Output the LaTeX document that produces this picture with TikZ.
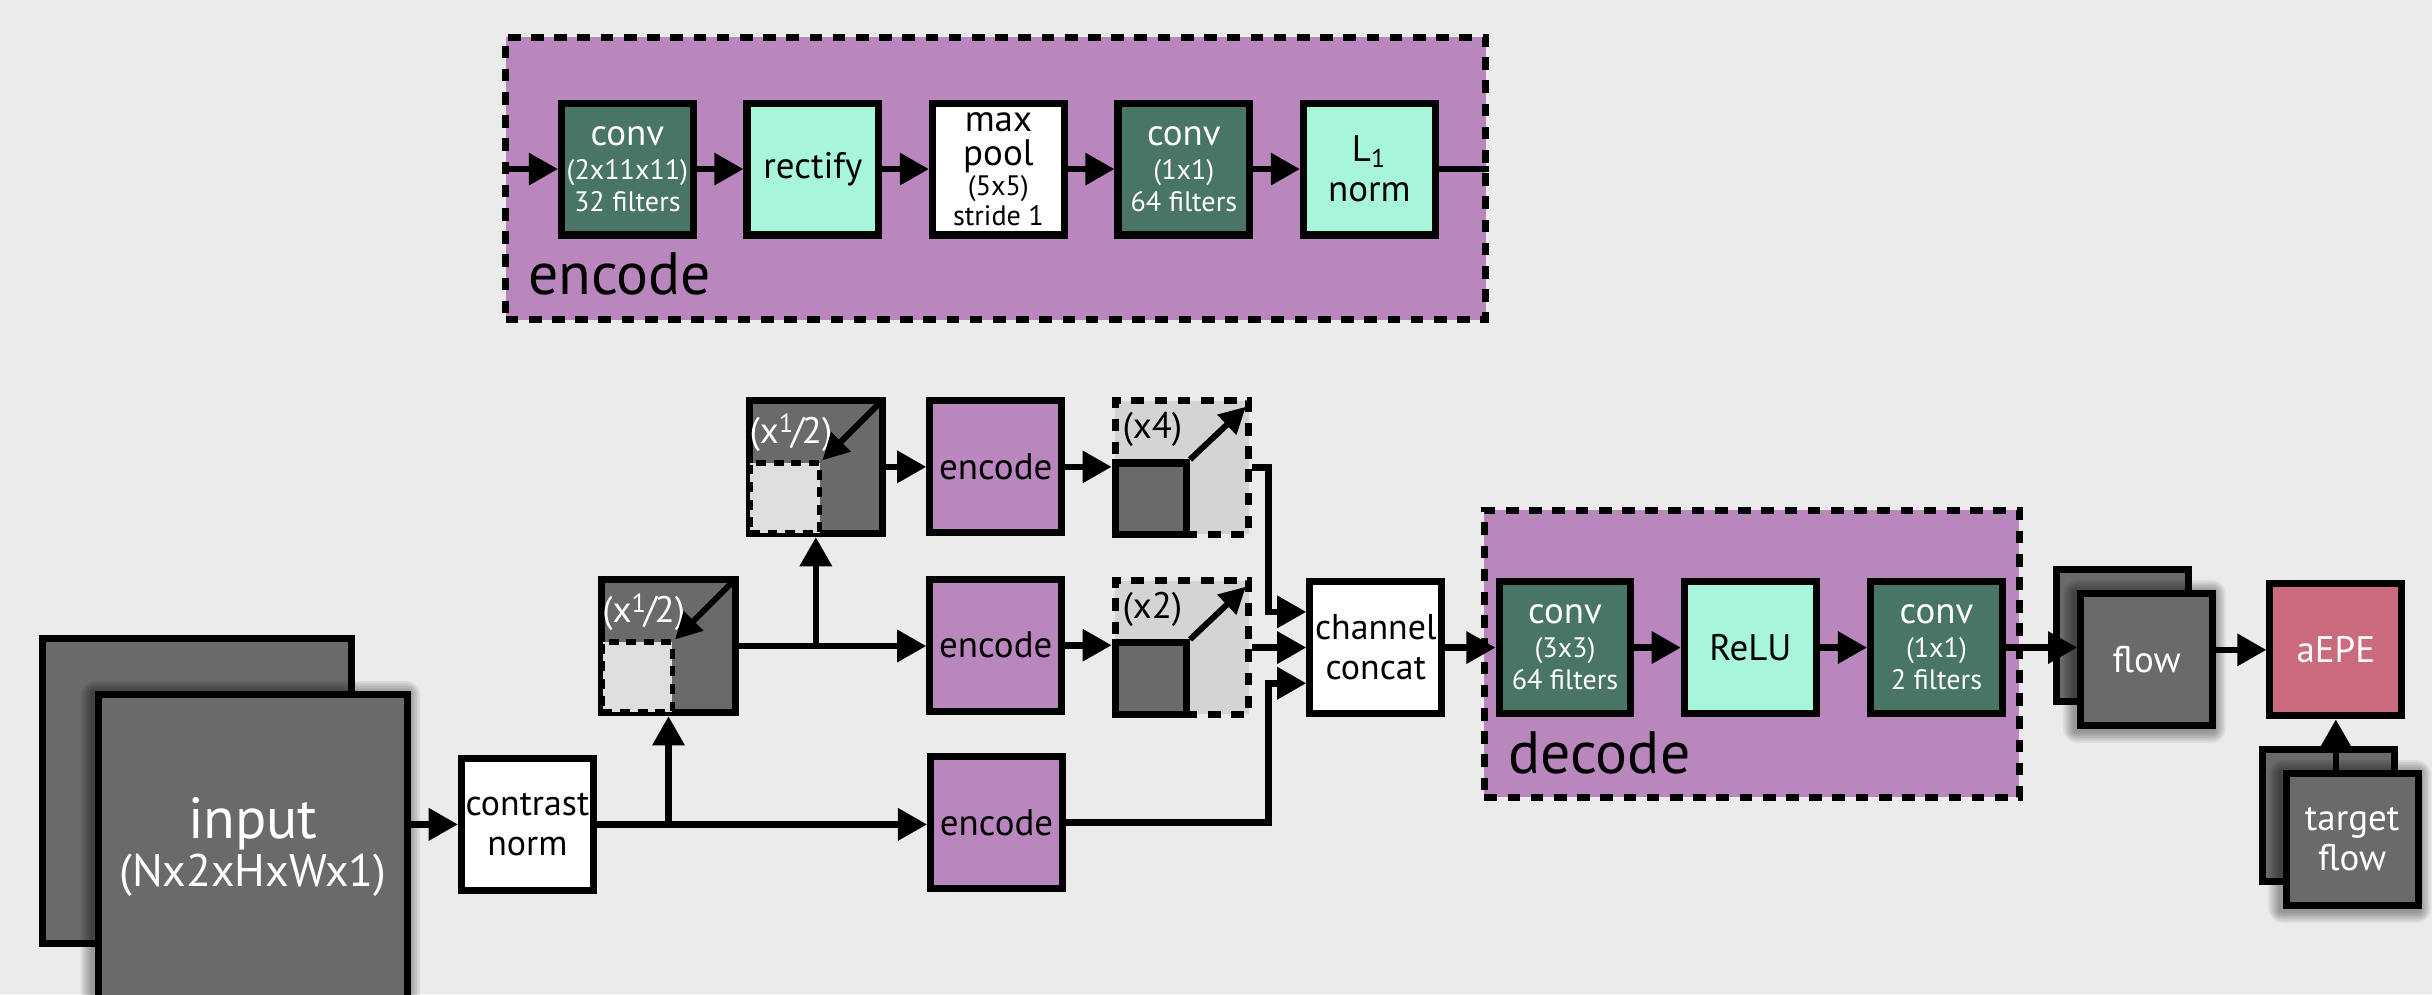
\documentclass[tikz,border=0pt]{standalone}
\usepackage{fontspec}
\setmainfont{PT Sans}
\usetikzlibrary{arrows.meta,calc}
\definecolor{bg}{HTML}{EBEBEB}
\definecolor{purp}{HTML}{BA86BE}
\definecolor{dgreen}{HTML}{487566}
\definecolor{mint}{HTML}{A7F5DB}
\definecolor{dgray}{HTML}{6A6A6A}
\definecolor{lgray}{HTML}{DEDEDE}
\definecolor{mgray}{HTML}{D4D4D4}
\definecolor{rose}{HTML}{CA6A7C}
\newcommand{\fsz}[2]{\fontsize{#1}{#2}\selectfont}
\newcommand{\half}{(x\raisebox{0.55ex}{\fsz{7.5}{8}1}\kern-0.06em/\kern-0.06em2)}
\def\pxu{0.01551cm}
% soft dark glow under a box: centre coordinate, width, height (in picture units)
\newcommand{\glowbox}[3]{%
  \foreach \k in {1,...,7}{%
    \fill[black, fill opacity=0.06, rounded corners=\k*0.6pt]
      ($(#1)+(-#2/2-\k*1.1-1.5,-#3/2-\k*1.1+1.5)$) rectangle ($(#1)+(#2/2+\k*1.1-1.5,#3/2+\k*1.1+1.5)$);}}
\tikzset{
  blk/.style={draw=black, line width=2pt, minimum width=85*\pxu, minimum height=85*\pxu, inner sep=0pt, align=center, font=\fsz{10.5}{11.4}},
  convbox/.style={blk, fill=dgreen, text=white},
  mintbox/.style={blk, fill=mint},
  whitebox/.style={blk, fill=white},
  encodebox/.style={blk, fill=purp},
  graybox/.style={blk, fill=dgray, text=white},
  rosebox/.style={blk, fill=rose, text=white},
  region/.style={draw=black, fill=purp, line width=2pt, dash pattern=on 3.6pt off 3pt, inner sep=0pt},
  scalebox/.style={draw=black, fill=mgray, line width=2pt, dash pattern=on 3.6pt off 3pt, minimum width=86*\pxu, minimum height=86*\pxu, inner sep=0pt},
  innerdash/.style={draw=black, fill=lgray, line width=1.5pt, dash pattern=on 2.8pt off 2.2pt, minimum size=45*\pxu, inner sep=0pt},
  arr/.style={line width=1.9pt, -{Triangle[length=8.3pt,width=8.8pt]}},
  diag/.style={line width=1.7pt, -{Triangle[length=7.5pt,width=7.5pt]}},
  ln/.style={line width=1.9pt},
  biglabel/.style={font=\fsz{17}{18}, anchor=base west, inner sep=0pt},
  smalllabel/.style={font=\fsz{10.5}{11}, inner sep=0pt}
}
\begin{document}
\begin{tikzpicture}[x=\pxu, y=-\pxu]
\fill[bg] (0,0) rectangle (1568,641);
\useasboundingbox (0,0) rectangle (1568,641);

% ---------- top encode module ----------
\node[region, minimum width=632*\pxu, minimum height=182*\pxu] (encbox) at (642,115) {};
\node[biglabel] (enclabel) at (340,190) {encode};
\node[convbox, font=\fsz{8}{9.2}] (c1) at (404.5,109) {{\fsz{10.5}{9.2}conv}\\[0.4pt](2x11x11)\\32 filters};
\node[mintbox] (rect) at (524.1,109) {rectify};
\node[whitebox, font=\fsz{8}{8.4}] (pool) at (643.7,109) {{\fsz{10.5}{9.6}max}\\[1.3pt]{\fsz{10.5}{9.6}pool}\\[0.3pt](5x5)\\stride 1};
\node[convbox, font=\fsz{8}{9.2}] (c2) at (763.3,109) {{\fsz{10.5}{9.2}conv}\\[0.4pt](1x1)\\64 filters};
\node[mintbox] (l1) at (882.9,109) {L\textsubscript{1}\\norm};
\draw[arr] (encbox.west |- c1.west) -- (c1.west);
\draw[arr] (c1) -- (rect);
\draw[arr] (rect) -- (pool);
\draw[arr] (pool) -- (c2);
\draw[arr] (c2) -- (l1);
\draw[ln] (l1.east) -- (l1.east -| encbox.east);

% ---------- input and pyramid ----------
\node[graybox, minimum width=199*\pxu, minimum height=197*\pxu] (inB) at (127,510) {};
\coordinate (inFc) at (163,546);
\glowbox{inFc}{203.5}{201.5}
\node[graybox, minimum width=199*\pxu, minimum height=197*\pxu] (inF) at (inFc) {{\fsz{16.5}{15.4}input}\\{\fsz{13}{15.4}(Nx2xHxWx1)}};
\node[whitebox, font=\fsz{10.2}{11.4}] (cn) at (340,531.5) {contrast\\norm};

\node[graybox, minimum size=86*\pxu] (halfB) at (431,416.5) {};
\node[innerdash] (halfBi) at ([shift={(-20,20)}]halfB.center) {};
\node[smalllabel, text=white] (halfBt) at ([shift={(-16,-22)}]halfB.center) {\half};
\draw[diag] ([shift={(-3,3)}]halfB.north east) -- (halfBi.north east);

\node[graybox, minimum size=86*\pxu] (halfT) at (526,301) {};
\node[innerdash] (halfTi) at ([shift={(-20,20)}]halfT.center) {};
\node[smalllabel, text=white] (halfTt) at ([shift={(-16,-22)}]halfT.center) {\half};
\draw[diag] ([shift={(-3,3)}]halfT.north east) -- (halfTi.north east);

\node[encodebox] (e1) at (642,301) {encode};
\node[encodebox] (e2) at (642,416) {encode};
\node[encodebox] (e3) at (642.5,530.5) {encode};

\node[scalebox] (x4) at (762,301.5) {};
\node[graybox, minimum size=46*\pxu] (x4s) at ([shift={(-20,20)}]x4.center) {};
\node[smalllabel] (x4t) at ([shift={(-19,-24.5)}]x4.center) {(x4)};
\draw[diag] (x4s.north east) -- ([shift={(-4,6)}]x4.north east);

\node[scalebox] (x2) at (762,417.5) {};
\node[graybox, minimum size=46*\pxu] (x2s) at ([shift={(-20,20)}]x2.center) {};
\node[smalllabel] (x2t) at ([shift={(-19,-24.5)}]x2.center) {(x2)};
\draw[diag] (x2s.north east) -- ([shift={(-4,6)}]x2.north east);

\node[whitebox, font=\fsz{10.2}{11.4}] (concat) at (887,417.5) {channel\\concat};

% ---------- decode module ----------
\node[region, minimum width=345*\pxu, minimum height=185*\pxu] (decbox) at (1129.5,421.5) {};
\node[biglabel] (declabel) at (972,498.6) {decode};
\node[convbox, font=\fsz{8}{9.2}] (d1) at (1009,417.5) {{\fsz{10.5}{9.2}conv}\\[0.4pt](3x3)\\64 filters};
\node[mintbox] (relu) at (1128.5,417.5) {ReLU};
\node[convbox, font=\fsz{8}{9.2}] (d2) at (1248.5,417.5) {{\fsz{10.5}{9.2}conv}\\[0.4pt](1x1)\\2 filters};

% ---------- output ----------
\node[graybox] (flowB) at (1368.5,409.5) {};
\coordinate (flowFc) at (1384,425);
\glowbox{flowFc}{89.5}{89.5}
\node[graybox] (flowF) at (flowFc) {flow};
\node[rosebox] (aepe) at (1506,419) {aEPE};
\node[graybox] (tgtB) at (1501,526) {};
\coordinate (tgtFc) at (1516.5,541);
\glowbox{tgtFc}{89.5}{89.5}
\node[graybox] (tgtF) at (tgtFc) {target\\flow};

% ---------- connectors ----------
\draw[arr] (inF.east |- cn.west) -- (cn.west);
\draw[arr] (cn.east) -- (cn.east -| e3.west);
\draw[arr] (halfB.south |- cn.east) -- (halfB.south);
\draw[arr] (halfB.east) -- (halfB.east -| e2.west);
\draw[arr] (halfT.south |- halfB.east) -- (halfT.south);
\draw[arr] (halfT.east) -- (halfT.east -| e1.west);
\draw[arr] (e1.east) -- (e1.east -| x4.west);
\draw[arr] (e2.east) -- (e2.east -| x2.west);
\coordinate (bendx) at (818,0);
\coordinate (cin1) at ($(concat.west)+(0,-23)$);
\coordinate (cin3) at ($(concat.west)+(0,23)$);
\draw[arr] (x4.east) -| (bendx |- cin1) -- (cin1);
\draw[arr] (x2.east) -- (x2.east -| concat.west);
\draw[arr] (e3.east) -| (bendx |- cin3) -- (cin3);
\draw[arr] (concat) -- (d1);
\draw[arr] (d1) -- (relu);
\draw[arr] (relu) -- (d2);
\draw[arr] (d2.east) -- (d2.east -| flowF.west);
\draw[arr] (flowF.east |- aepe.west) -- (aepe.west);
\draw[arr] (aepe.south |- tgtF.north) -- (aepe.south);
\end{tikzpicture}
\end{document}
